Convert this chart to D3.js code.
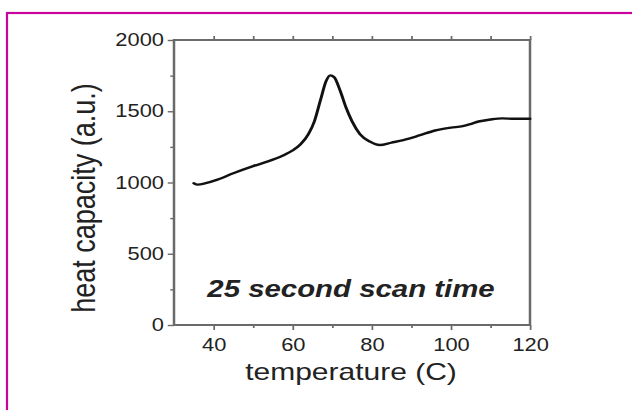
<!DOCTYPE html>
<html>
<head>
<meta charset="utf-8">
<script src="https://cdn.jsdelivr.net/npm/d3@7"></script>
<style>
  body { margin: 0; background: #fff; }
  svg text { font-family: "Liberation Sans", Arial, sans-serif; fill: #222; }
</style>
</head>
<body>
<div id="chart"></div>
<script>
// data
var temps = [35, 36, 38, 41, 45, 50, 55, 58, 60, 62, 64, 65.5, 67, 68.5, 69.5, 70.5, 72, 73.5, 75, 77, 79.5, 82, 85, 88, 92, 96, 100, 103, 105, 107, 110, 113, 116, 120];
var heat  = [995, 985, 995, 1020, 1065, 1115, 1160, 1195, 1225, 1268, 1340, 1430, 1575, 1715, 1752, 1738, 1645, 1525, 1430, 1340, 1287, 1263, 1280, 1298, 1330, 1365, 1385, 1395, 1410, 1428, 1442, 1450, 1447, 1447];
var xTicks = [40, 60, 80, 100, 120];
var xMinor = [50, 70, 90, 110];
var yTicks = [0, 500, 1000, 1500, 2000];
var yMinor = [250, 750, 1250, 1750];
var note = "25 second scan time";
var xTitle = "temperature (C)";
var yTitle = "heat capacity (a.u.)";

function drawChart(tot_width, tot_height) {
    var sx = 1.25; // the original figure is stretched sideways

    var svg = d3.select("#chart").append("svg")
        .attr("width", tot_width).attr("height", tot_height);

    // magenta frame (right & bottom run off the page)
    svg.append("rect")
        .attr("x", 7).attr("y", 13)
        .attr("width", 700).attr("height", 500)
        .attr("fill", "none").attr("stroke", "#c8049c").attr("stroke-width", 2.2);

    var g = svg.append("g").attr("transform", "scale(" + sx + ",1)");

    var pLeft = 174 / sx, pRight = 530 / sx, pTop = 40, pBottom = 325;

    var x = d3.scaleLinear().domain([30, 120]).range([pLeft, pRight]);
    var y = d3.scaleLinear().domain([0, 2000]).range([pBottom, pTop]);

    var axisCol = "#6a6a6a";

    // bottom axis
    var xb = g.append("g").attr("transform", "translate(0," + pBottom + ")");
    xb.call(d3.axisBottom(x).tickValues(xTicks).tickSize(5).tickPadding(9).tickFormat(d3.format("d")));
    xb.append("g").call(d3.axisBottom(x).tickValues(xMinor).tickSize(3).tickFormat(""));
    // top axis (ticks only)
    var xt = g.append("g").attr("transform", "translate(0," + pTop + ")");
    xt.call(d3.axisTop(x).tickValues(xTicks.concat(xMinor)).tickSize(4).tickFormat(""));
    // left axis
    var yl = g.append("g").attr("transform", "translate(" + pLeft + ",0)");
    yl.call(d3.axisLeft(y).tickValues(yTicks).tickSize(5).tickPadding(3).tickFormat(d3.format("d")));
    yl.append("g").call(d3.axisLeft(y).tickValues(yMinor).tickSize(3).tickFormat(""));

    g.selectAll(".domain").remove();
    g.selectAll(".tick line").attr("stroke", axisCol).attr("stroke-width", 1.4);
    g.selectAll(".tick text").style("font-size", "17.5px").attr("fill", "#222");

    // plot frame
    g.append("rect")
        .attr("x", pLeft).attr("y", pTop)
        .attr("width", pRight - pLeft).attr("height", pBottom - pTop)
        .attr("fill", "none").attr("stroke", axisCol).attr("stroke-width", 2);

    // the curve
    var pts = temps.map(function(t, i) { return [t, heat[i]]; });
    var line = d3.line()
        .x(function(d) { return x(d[0]); })
        .y(function(d) { return y(d[1]); })
        .curve(d3.curveMonotoneX);
    g.append("path")
        .datum(pts)
        .attr("d", line)
        .attr("fill", "none")
        .attr("stroke", "#111")
        .attr("stroke-width", 2.4)
        .attr("stroke-linejoin", "round")
        .attr("stroke-linecap", "round");

    // annotation
    g.append("text")
        .attr("x", 351 / sx).attr("y", 297)
        .attr("text-anchor", "middle")
        .style("font-size", "23.5px")
        .style("font-weight", "bold")
        .style("font-style", "italic")
        .attr("fill", "#111")
        .text(note);

    // axis titles
    g.append("text")
        .attr("x", 351 / sx).attr("y", 380)
        .attr("text-anchor", "middle")
        .style("font-size", "24px")
        .text(xTitle);

    g.append("text")
        .attr("transform", "translate(" + (95 / sx) + ",198) rotate(-90)")
        .attr("text-anchor", "middle")
        .style("font-size", "27px")
        .text(yTitle);
}

drawChart(632, 410);
</script>
</body>
</html>
